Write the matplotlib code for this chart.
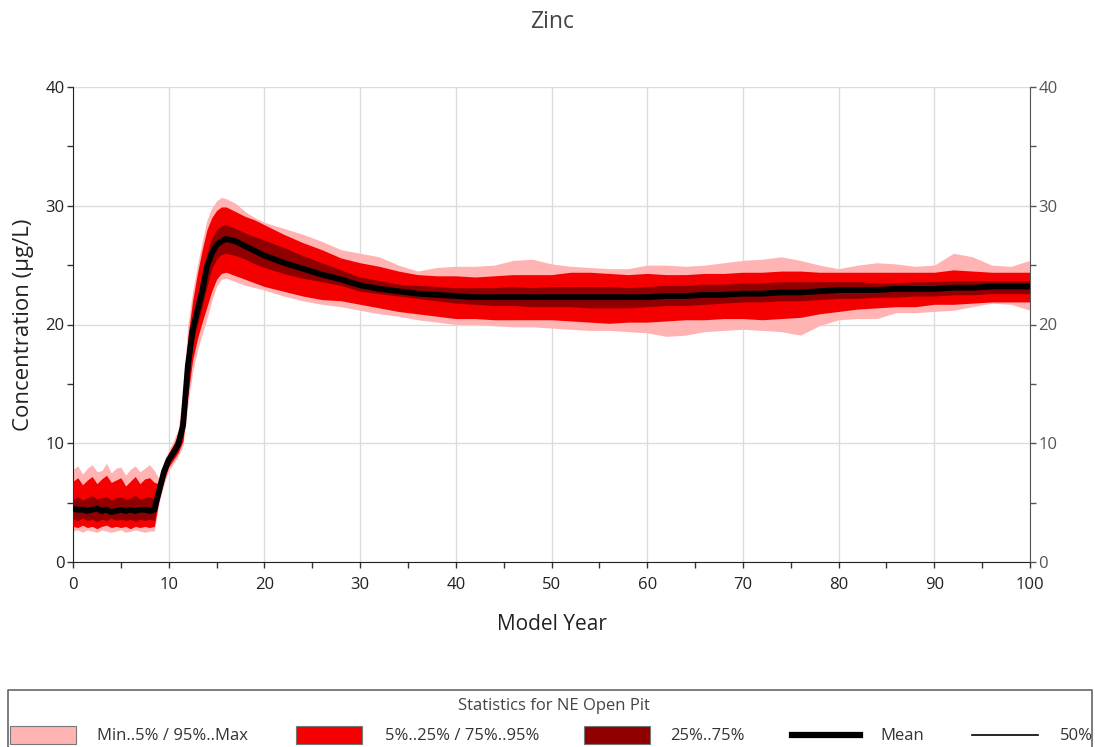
import matplotlib
matplotlib.use("Agg")
import matplotlib.pyplot as plt
from matplotlib.patches import Rectangle
from matplotlib.lines import Line2D
from matplotlib.ticker import MultipleLocator

# ---------------- data ----------------
years = [0, 0.5, 1, 1.5, 2, 2.5, 3, 3.5, 4, 4.5, 5, 5.5, 6, 6.5, 7, 7.5, 8, 8.5,
         9, 9.5, 10, 10.5, 11, 11.5, 12, 12.5, 13, 13.5, 14, 14.5, 15, 15.5, 16, 17, 18, 19, 20,
         22, 24, 26, 28, 30, 32, 34, 36, 38, 40, 42, 44, 46, 48, 50, 52, 54, 56, 58, 60,
         62, 64, 66, 68, 70, 72, 74, 76, 78, 80, 82, 84, 86, 88, 90, 92, 94, 96, 98, 100]

v_max = [7.8, 8.1, 7.4, 7.9, 8.2, 7.6, 7.7, 8.3, 7.5, 7.9, 8.0, 7.3, 7.8, 8.1, 7.6, 7.9, 8.2, 7.7,
         7.0, 8.5, 9.4, 10.2, 11.2, 14.5, 20.0, 22.8, 25.0, 27.0, 28.8, 29.8, 30.4, 30.7, 30.6, 30.2, 29.5, 29.0, 28.6,
         28.1, 27.6, 27.0, 26.3, 26.0, 25.7, 25.0, 24.5, 24.8, 24.9, 24.9, 25.0, 25.4, 25.5, 25.1, 24.9, 24.8, 24.7, 24.7, 25.0,
         25.0, 24.9, 25.0, 25.2, 25.4, 25.5, 25.7, 25.4, 25.0, 24.7, 25.0, 25.2, 25.1, 24.9, 25.0, 26.0, 25.7, 25.0, 24.9, 25.4]

v_p95 = [6.8, 7.1, 6.5, 6.9, 7.2, 6.6, 7.0, 7.3, 6.7, 6.9, 7.1, 6.4, 6.8, 7.2, 6.6, 7.0, 7.1, 6.7,
         6.6, 8.2, 9.2, 9.9, 10.8, 13.5, 19.0, 22.0, 24.3, 26.3, 28.0, 29.0, 29.6, 29.9, 29.9, 29.5, 29.1, 28.8, 28.4,
         27.6, 26.9, 26.3, 25.6, 25.2, 24.9, 24.5, 24.2, 24.1, 24.1, 24.0, 24.1, 24.2, 24.2, 24.2, 24.4, 24.4, 24.3, 24.2, 24.3,
         24.2, 24.2, 24.3, 24.3, 24.4, 24.4, 24.5, 24.5, 24.4, 24.4, 24.4, 24.4, 24.4, 24.4, 24.4, 24.6, 24.5, 24.4, 24.4, 24.4]

v_p75 = [5.3, 5.5, 5.2, 5.4, 5.6, 5.3, 5.4, 5.5, 5.2, 5.4, 5.5, 5.3, 5.4, 5.6, 5.3, 5.4, 5.5, 5.3,
         6.2, 7.9, 8.9, 9.5, 10.3, 12.2, 17.5, 20.5, 22.5, 24.2, 26.0, 27.3, 28.0, 28.3, 28.4, 28.1, 27.7, 27.4, 27.1,
         26.5, 25.8, 25.2, 24.6, 24.0, 23.7, 23.4, 23.3, 23.2, 23.1, 23.1, 23.1, 23.2, 23.1, 23.2, 23.2, 23.2, 23.2, 23.1, 23.2,
         23.3, 23.3, 23.4, 23.4, 23.5, 23.5, 23.6, 23.6, 23.6, 23.6, 23.6, 23.5, 23.5, 23.6, 23.6, 23.7, 23.7, 23.7, 23.7, 23.7]

v_mean = [4.5, 4.4, 4.4, 4.3, 4.4, 4.5, 4.3, 4.4, 4.2, 4.3, 4.4, 4.3, 4.4, 4.3, 4.4, 4.4, 4.3, 4.4,
          6.0, 7.6, 8.6, 9.2, 9.9, 11.5, 16.5, 19.5, 21.2, 22.8, 24.9, 26.0, 26.7, 27.0, 27.2, 27.0, 26.6, 26.2, 25.8,
          25.2, 24.7, 24.2, 23.8, 23.3, 23.0, 22.8, 22.6, 22.5, 22.4, 22.3, 22.3, 22.3, 22.3, 22.3, 22.3, 22.3, 22.3, 22.3, 22.3,
          22.4, 22.4, 22.5, 22.5, 22.6, 22.6, 22.7, 22.7, 22.8, 22.9, 22.9, 22.9, 23.0, 23.0, 23.0, 23.1, 23.1, 23.2, 23.2, 23.2]

v_median = v_mean  # the 50% line is indistinguishable from the mean

v_p25 = [3.6, 3.5, 3.7, 3.5, 3.6, 3.4, 3.6, 3.5, 3.7, 3.5, 3.6, 3.5, 3.6, 3.4, 3.6, 3.5, 3.6, 3.5,
         5.7, 7.2, 8.3, 8.9, 9.6, 10.8, 15.3, 18.3, 20.0, 21.5, 23.2, 24.7, 25.5, 25.9, 26.0, 25.8, 25.5, 25.1, 24.8,
         24.3, 23.9, 23.6, 23.3, 22.8, 22.6, 22.4, 22.2, 22.0, 21.8, 21.7, 21.6, 21.6, 21.5, 21.5, 21.5, 21.4, 21.4, 21.4, 21.5,
         21.6, 21.6, 21.7, 21.8, 21.9, 21.9, 22.0, 22.0, 22.1, 22.2, 22.2, 22.3, 22.3, 22.4, 22.4, 22.5, 22.5, 22.6, 22.6, 22.6]

v_p5 = [3.0, 2.9, 3.1, 2.9, 3.0, 2.8, 3.0, 3.1, 2.9, 3.0, 2.9, 3.0, 2.8, 3.0, 2.9, 3.0, 2.9, 3.0,
        5.3, 6.8, 8.0, 8.6, 9.2, 10.2, 14.0, 17.0, 18.8, 20.2, 21.5, 22.8, 23.8, 24.3, 24.4, 24.1, 23.8, 23.5, 23.2,
        22.8, 22.4, 22.1, 22.0, 21.7, 21.4, 21.1, 20.9, 20.7, 20.5, 20.5, 20.4, 20.4, 20.4, 20.4, 20.3, 20.2, 20.1, 20.2, 20.2,
        20.3, 20.4, 20.4, 20.5, 20.5, 20.4, 20.5, 20.6, 20.9, 21.1, 21.3, 21.4, 21.5, 21.5, 21.7, 21.7, 21.8, 21.9, 21.9, 21.9]

v_min = [2.6, 2.7, 2.5, 2.7, 2.6, 2.5, 2.7, 2.6, 2.5, 2.6, 2.7, 2.5, 2.6, 2.7, 2.6, 2.5, 2.6, 2.6,
         5.0, 6.5, 7.7, 8.3, 8.9, 9.8, 13.2, 16.0, 17.8, 19.2, 20.5, 22.0, 23.2, 23.8, 23.9, 23.6, 23.3, 23.1, 22.9,
         22.4, 22.0, 21.7, 21.5, 21.2, 20.9, 20.7, 20.4, 20.2, 20.0, 20.0, 19.9, 19.8, 19.8, 19.7, 19.6, 19.5, 19.5, 19.4, 19.3,
         19.0, 19.1, 19.4, 19.5, 19.6, 19.5, 19.4, 19.1, 19.9, 20.4, 20.5, 20.5, 21.0, 21.0, 21.1, 21.2, 21.5, 21.8, 21.7, 21.2]

title = "Zinc"
x_label = "Model Year"
y_label = "Concentration (µg/L)"
legend_title = "Statistics for NE Open Pit"
legend_labels = ["Min..5% / 95%..Max", "5%..25% / 75%..95%", "25%..75%", "Mean", "50%"]

# ---------------- style ----------------
C_PINK = "#ffb3b3"
C_RED = "#f50000"
C_DARK = "#900000"
FONT = ["Open Sans", "DejaVu Sans"]
plt.rcParams["font.family"] = FONT

W, H = 1095, 747
fig = plt.figure(figsize=(W / 100, H / 100), dpi=100)
fig.patch.set_facecolor("white")

ax = fig.add_axes([73 / W, (H - 562) / H, 957 / W, 475 / H])
ax.fill_between(years, v_min, v_max, color=C_PINK, lw=0, zorder=2)
ax.fill_between(years, v_p5, v_p95, color=C_RED, lw=0, zorder=3)
ax.fill_between(years, v_p25, v_p75, color=C_DARK, lw=0, zorder=4)
ax.plot(years, v_mean, color="black", lw=4.2, zorder=5, solid_capstyle="butt")
ax.plot(years, v_median, color="black", lw=1.0, zorder=6)

ax.set_xlim(0, 100)
ax.set_ylim(0, 40)
ax.xaxis.set_major_locator(MultipleLocator(10))
ax.xaxis.set_minor_locator(MultipleLocator(5))
ax.yaxis.set_major_locator(MultipleLocator(10))
ax.yaxis.set_minor_locator(MultipleLocator(5))
ax.grid(True, which="major", color="#dcdcdc", lw=1.0, zorder=0)
ax.set_axisbelow(True)
for s in ("top", "right"):
    ax.spines[s].set_visible(False)
ax.spines["left"].set_color("#222222")
ax.spines["bottom"].set_color("#222222")
ax.tick_params(axis="both", which="both", direction="out", length=4, width=1,
               color="#333333", labelsize=12, labelcolor="#222222")
ax.tick_params(axis="x", pad=7)
ax.tick_params(axis="y", pad=2)

ax2 = ax.twinx()
ax2.set_ylim(0, 40)
ax2.yaxis.set_major_locator(MultipleLocator(10))
ax2.yaxis.set_minor_locator(MultipleLocator(5))
for s in ("top", "left", "bottom"):
    ax2.spines[s].set_visible(False)
ax2.spines["right"].set_color("#555555")
ax2.tick_params(axis="y", which="both", direction="out", length=4, width=1,
                color="#555555", labelsize=12, labelcolor="#555555", pad=2)

ax.set_xlabel(x_label, fontsize=15, color="#222222", labelpad=15)
ax.set_ylabel(y_label, fontsize=16, color="#222222", labelpad=8)
fig.text(552 / W, 1 - 22 / H, title, ha="center", va="center", fontsize=16.5, color="#444444")

# ---------------- legend panel ----------------
lax = fig.add_axes([0, 0, 1, 1], facecolor="none")
lax.set_xlim(0, W)
lax.set_ylim(H, 0)
lax.axis("off")
lax.add_line(Line2D([8, 8, 1092, 1092], [747, 690, 690, 747], color="#666666", lw=1.2))
lax.text(554, 706, legend_title, ha="center", va="center", fontsize=12, color="#444444")
patch_x = [10, 296, 584]
patch_c = [C_PINK, C_RED, C_DARK]
text_x = [97, 385, 670, 880, 1060]
for px, pc in zip(patch_x, patch_c):
    lax.add_patch(Rectangle((px, 726), 66, 18, facecolor=pc, edgecolor="#777777", lw=0.8))
lax.add_line(Line2D([792, 860], [735, 735], color="black", lw=4.5))
lax.add_line(Line2D([972, 1038], [735, 735], color="black", lw=1.2))
for tx, lab in zip(text_x, legend_labels):
    lax.text(tx, 736, lab, ha="left", va="center", fontsize=12, color="#333333")

fig.savefig("out.png", dpi=100)
